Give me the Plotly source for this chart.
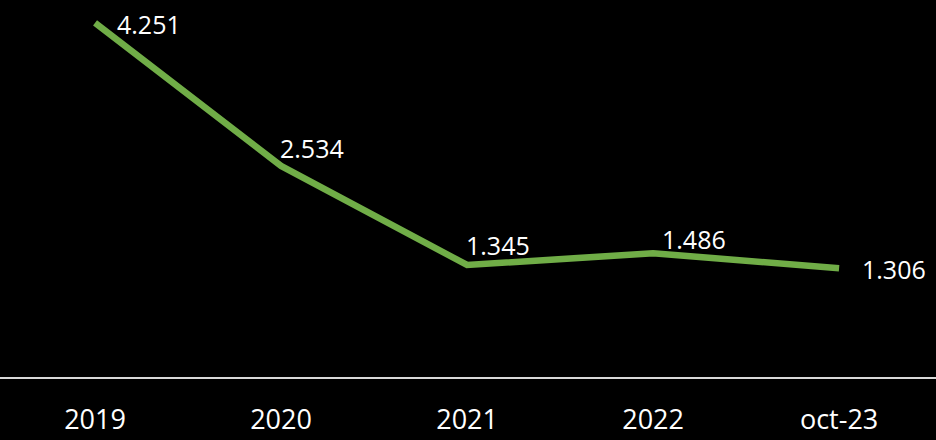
import plotly.graph_objects as go

categories = ["2019", "2020", "2021", "2022", "oct-23"]
values = [4.251, 2.534, 1.345, 1.486, 1.306]
value_labels = ["4.251", "2.534", "1.345", "1.486", "1.306"]

# label offsets in pixels (style only)
label_dx = [20, -3, -3, 7, 21]
label_dy = [-1, 18, 20, 14, -1]

LINE_GREEN = "#70AD47"
FONT = "Open Sans"

fig = go.Figure()
fig.add_trace(go.Scatter(
    x=categories, y=values, mode="lines",
    line=dict(color=LINE_GREEN, width=6.5),
    hoverinfo="skip", showlegend=False,
))

for i, (v, t, dx, dy) in enumerate(zip(values, value_labels, label_dx, label_dy)):
    fig.add_annotation(
        x=i, y=v, text=t, showarrow=False,
        xanchor="left", yanchor="middle",
        xshift=dx, yshift=dy,
        font=dict(family=FONT, size=25, color="white"),
    )

fig.update_layout(
    width=936, height=440,
    paper_bgcolor="black", plot_bgcolor="black",
    margin=dict(l=0, r=0, t=0, b=63),
    xaxis=dict(
        type="category", range=[-0.511, 4.521],
        showgrid=False, zeroline=False,
        showline=True, linecolor="#D9D9D9", linewidth=2,
        ticks="", ticklabelstandoff=18,
        tickfont=dict(family=FONT, size=27, color="white"),
        fixedrange=True,
    ),
    yaxis=dict(
        range=[0, 4.526], visible=False, fixedrange=True,
    ),
)

fig.write_html(
    "out.html",
    config={"displayModeBar": False},
    post_script="document.body.style.margin='0';document.body.style.background='black';",
)
